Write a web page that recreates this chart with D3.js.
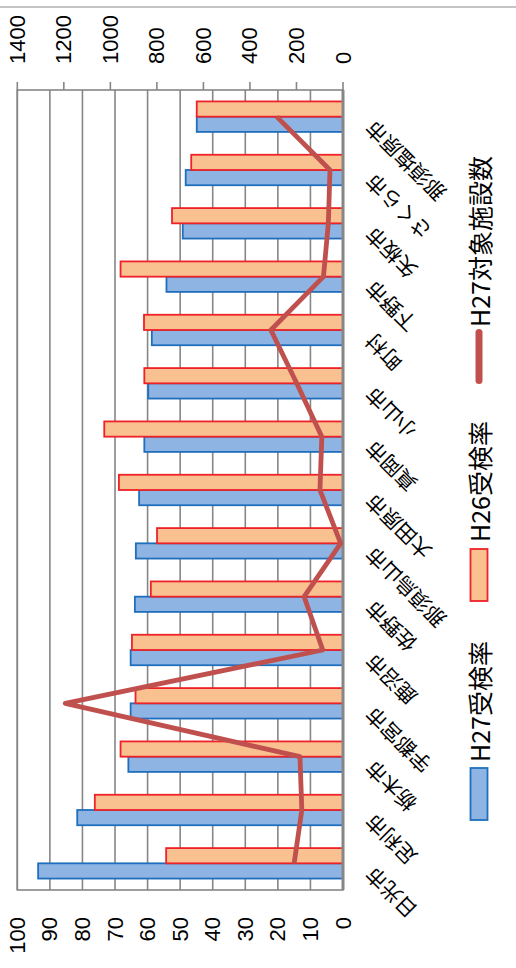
<!DOCTYPE html>
<html><head><meta charset="utf-8">
<script src="https://cdn.jsdelivr.net/npm/d3@7"></script>
<style>html,body{margin:0;padding:0;background:#fff;overflow:hidden}</style>
</head><body>
<script>
const categories = ["日光市","足利市","栃木市","宇都宮市","鹿沼市","佐野市","那須烏山市","大田原市","真岡市","小山市","町村","下野市","矢板市","さくら市","那須塩原市"];
const h27Rate = [93.6, 81.6, 65.9, 65.2, 65.2, 63.9, 63.6, 62.6, 61.0, 59.8, 58.7, 54.2, 49.2, 48.3, 44.9];
const h26Rate = [54.3, 76.2, 68.3, 63.7, 64.8, 59.0, 57.1, 68.8, 73.3, 61.0, 61.1, 68.3, 52.5, 46.6, 44.9];
const h27Facilities = [210, 177, 185, 1194, 87, 167, 10, 99, 91, 199, 310, 84, 63, 56, 285];
const leftTicks = [0,10,20,30,40,50,60,70,80,90,100];
const rightTicks = [0,200,400,600,800,1000,1200,1400];
const seriesNames = ["H27受検率","H26受検率","H27対象施設数"];

const W = 516, H = 968;
const svg = d3.select("body").append("svg").attr("width", W).attr("height", H);
// Original landscape chart (968 x 516), rotated 90° counter-clockwise
const g = svg.append("g").attr("transform", `translate(0,${H}) rotate(-90)`);

const plotL = 78, plotR = 878, plotT = 17.3, plotB = 343;
const x = d3.scaleBand().domain(categories).range([plotL, plotR]).padding(0);
const bw = x.bandwidth();
const gapHalf = bw * 0.75 / 3.5;
const xs = d3.scaleBand().domain(["H27","H26"]).range([gapHalf, bw - gapHalf]).padding(0);
const yL = d3.scaleLinear().domain([0,100]).range([plotB, plotT]);
const yR = d3.scaleLinear().domain([0,1400]).range([plotB, plotT]);

const gridCol = "#868686";
// chart border
g.append("rect").attr("x",-20).attr("y",-20).attr("width",981).attr("height",560)
  .attr("fill","none").attr("stroke","#a6a6a6").attr("stroke-width",1.3);

// gridlines
g.append("g").selectAll("line").data(leftTicks).join("line")
  .attr("x1", plotL).attr("x2", plotR).attr("y1", d=>yL(d)).attr("y2", d=>yL(d))
  .attr("stroke", gridCol).attr("stroke-width", 1.6);
// plot border
g.append("rect").attr("x",plotL).attr("y",plotT).attr("width",plotR-plotL).attr("height",plotB-plotT)
  .attr("fill","none").attr("stroke",gridCol).attr("stroke-width",1.6);
// secondary ticks
g.append("g").selectAll("line").data(rightTicks).join("line")
  .attr("x1", plotR).attr("x2", plotR+8).attr("y1", d=>yR(d)).attr("y2", d=>yR(d))
  .attr("stroke", gridCol).attr("stroke-width", 1.6);

// bars
const bars = g.append("g");
bars.selectAll("rect.b27").data(categories).join("rect").attr("class","b27")
  .attr("x", d=>x(d)+xs("H27")).attr("width", xs.bandwidth())
  .attr("y", (d,i)=>yL(h27Rate[i])).attr("height", (d,i)=>yL(0)-yL(h27Rate[i]))
  .attr("fill","#8eb4e3").attr("stroke","#1f6fbd").attr("stroke-width",1.8);
bars.selectAll("rect.b26").data(categories).join("rect").attr("class","b26")
  .attr("x", d=>x(d)+xs("H26")).attr("width", xs.bandwidth())
  .attr("y", (d,i)=>yL(h26Rate[i])).attr("height", (d,i)=>yL(0)-yL(h26Rate[i]))
  .attr("fill","#f9c090").attr("stroke","#ee2228").attr("stroke-width",1.8);

// category axis line
g.append("line").attr("x1",plotL).attr("x2",plotR).attr("y1",plotB).attr("y2",plotB)
  .attr("stroke","#868686").attr("stroke-width",3);

// line series
const line = d3.line().x((d,i)=>x(categories[i])+bw/2).y(d=>yR(d));
g.append("path").datum(h27Facilities).attr("d", line)
  .attr("fill","none").attr("stroke","#c0504d").attr("stroke-width",4.8).attr("stroke-linejoin","round");

// axis labels
const numFont = "'Liberation Sans', Arial, sans-serif";
g.append("g").selectAll("text").data(leftTicks).join("text")
  .attr("x", 51).attr("y", d=>yL(d)).attr("text-anchor","end").attr("dominant-baseline","central")
  .attr("font-family", numFont).attr("font-size", 22).attr("fill","#000").text(d=>d);
g.append("g").selectAll("text").data(rightTicks).join("text")
  .attr("x", 904).attr("y", d=>yR(d)).attr("text-anchor","start").attr("dominant-baseline","central")
  .attr("font-family", numFont).attr("font-size", 22).attr("fill","#000").text(d=>d);

// category labels
const jp = "'Noto Sans CJK JP', sans-serif";
g.append("g").selectAll("text").data(categories).join("text")
  .attr("transform", d=>`translate(${x(d)+bw/2-2},375) rotate(-45)`)
  .attr("text-anchor","end").attr("font-family", jp).attr("font-size", 20.5).attr("fill","#000").text(d=>d);

// legend
const ly = 479;
const leg = g.append("g");
leg.append("rect").attr("x",148).attr("y",ly-8.5).attr("width",52).attr("height",17)
  .attr("fill","#8eb4e3").attr("stroke","#1f6fbd").attr("stroke-width",1.8);
leg.append("rect").attr("x",367).attr("y",ly-8.5).attr("width",52).attr("height",17)
  .attr("fill","#f9c090").attr("stroke","#ee2228").attr("stroke-width",1.8);
leg.append("line").attr("x1",587.5).attr("x2",635.5).attr("y1",ly).attr("y2",ly)
  .attr("stroke","#c0504d").attr("stroke-width",7).attr("stroke-linecap","round");
const legX = [206, 426, 641];
leg.selectAll("text").data(seriesNames).join("text")
  .attr("x",(d,i)=>legX[i]).attr("y",ly).attr("dominant-baseline","central")
  .attr("font-family", jp).attr("font-size", 25).attr("fill","#000").text(d=>d);
</script>
</body></html>
